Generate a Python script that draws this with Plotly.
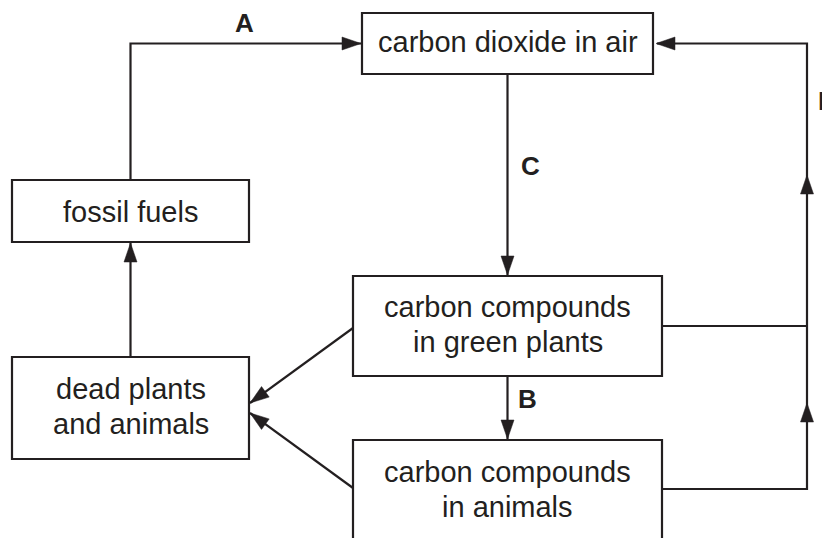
import plotly.graph_objects as go
import math

# ---- diagram content ----
node_ids = ["co2", "fossil", "plants", "dead", "animals"]
node_text = [
    ["carbon dioxide in air"],
    ["fossil fuels"],
    ["carbon compounds", "in green plants"],
    ["dead plants", "and animals"],
    ["carbon compounds", "in animals"],
]
edge_labels = ["A", "B", "C", "D"]

# ---- layout geometry (page pixel space: x right, y down) ----
W_PX, H_PX = 830, 538
PAGE_MARGIN = 8  # default body margin of the html page
boxes = {
    "co2": (362, 653, 13, 74),
    "fossil": (12, 249, 180, 242),
    "plants": (353, 662, 276, 376),
    "dead": (12, 249, 357, 459),
    "animals": (353, 662, 440, 570),
}
text_centers_y = {
    "co2": [41.5],
    "fossil": [211.5],
    "plants": [306.5, 341.5],
    "dead": [388.5, 423.5],
    "animals": [471.5, 506.5],
}
INK = "#231f20"
LW = 2.2
FONT = "Liberation Sans, Arial, Helvetica, sans-serif"
HEAD_L, HEAD_W = 19, 13

shapes = []
annotations = []


def cx(b):
    x0, x1, y0, y1 = boxes[b]
    return (x0 + x1) / 2


def polyline(pts):
    d = "M " + " L ".join(f"{x},{y}" for x, y in pts)
    shapes.append(dict(type="path", path=d, line=dict(color=INK, width=LW),
                       fillcolor="rgba(0,0,0,0)", xref="x", yref="y"))


def head(tip, frm):
    tx, ty = tip
    fx, fy = frm
    L = math.hypot(tx - fx, ty - fy)
    dx, dy = (tx - fx) / L, (ty - fy) / L
    bx, by = tx - HEAD_L * dx, ty - HEAD_L * dy
    px, py = -dy, dx
    p1 = (bx + HEAD_W / 2 * px, by + HEAD_W / 2 * py)
    p2 = (bx - HEAD_W / 2 * px, by - HEAD_W / 2 * py)
    d = f"M {tx},{ty} L {p1[0]},{p1[1]} L {p2[0]},{p2[1]} Z"
    shapes.append(dict(type="path", path=d, line=dict(color=INK, width=0.5),
                       fillcolor=INK, xref="x", yref="y"))


def arrow(pts):
    """polyline whose last point is an arrow tip"""
    polyline(pts)
    head(pts[-1], pts[-2])


# boxes and texts
for nid, lines in zip(node_ids, node_text):
    x0, x1, y0, y1 = boxes[nid]
    shapes.append(dict(type="rect", x0=x0, x1=x1, y0=y0, y1=y1,
                       line=dict(color=INK, width=LW), fillcolor="white",
                       xref="x", yref="y", layer="below"))
    for line, ty in zip(lines, text_centers_y[nid]):
        annotations.append(dict(x=cx(nid), y=ty, text=line, showarrow=False,
                                xanchor="center", yanchor="middle",
                                font=dict(family=FONT, size=29, color=INK)))

top_y = 43.5
right_x = 807
# A: fossil fuels -> CO2
fx = cx("fossil")
arrow([(fx, boxes["fossil"][2]), (fx, top_y), (boxes["co2"][0] - 1, top_y)])
# C: CO2 -> plants
c = cx("co2")
arrow([(c, boxes["co2"][3]), (c, boxes["plants"][2] - 1)])
# B: plants -> animals
p = cx("plants")
arrow([(p, boxes["plants"][3]), (p, boxes["animals"][2] - 1)])
# dead -> fossil
arrow([(fx, boxes["dead"][2]), (fx, boxes["fossil"][3] + 1)])
# D: plants & animals -> CO2
plants_mid = 326
animals_mid = 489
polyline([(boxes["plants"][1], plants_mid), (right_x, plants_mid)])
polyline([(boxes["animals"][1], animals_mid), (right_x, animals_mid),
          (right_x, top_y), (boxes["co2"][1] + 4, top_y)])
head((boxes["co2"][1] + 3, top_y), (right_x, top_y))
head((right_x, 175), (right_x, 300))
head((right_x, 403), (right_x, 480))
# plants / animals -> dead
dr = boxes["dead"][1] + 1
arrow([(boxes["plants"][0], 328), (dr, 403)])
arrow([(boxes["animals"][0], 488), (dr, 413)])

# edge labels
label_pos = {"A": (244.5, 23, "center"), "B": (527, 398.5, "center"),
             "C": (530, 166, "center"), "D": (816, 100.5, "left")}
for lab in edge_labels:
    x, y, xa = label_pos[lab]
    annotations.append(dict(x=x, y=y, text=f"<b>{lab}</b>", showarrow=False,
                            xanchor=xa, yanchor="middle",
                            font=dict(family=FONT, size=26, color=INK)))

fig = go.Figure()
fig.update_layout(
    width=W_PX - PAGE_MARGIN, height=H_PX - PAGE_MARGIN,
    margin=dict(l=0, r=0, t=0, b=0),
    paper_bgcolor="white", plot_bgcolor="white",
    xaxis=dict(range=[PAGE_MARGIN, W_PX], visible=False, fixedrange=True),
    yaxis=dict(range=[H_PX, PAGE_MARGIN], visible=False, fixedrange=True),
    shapes=shapes, annotations=annotations, showlegend=False,
)
fig.write_html("out.html", config={"displayModeBar": False})
